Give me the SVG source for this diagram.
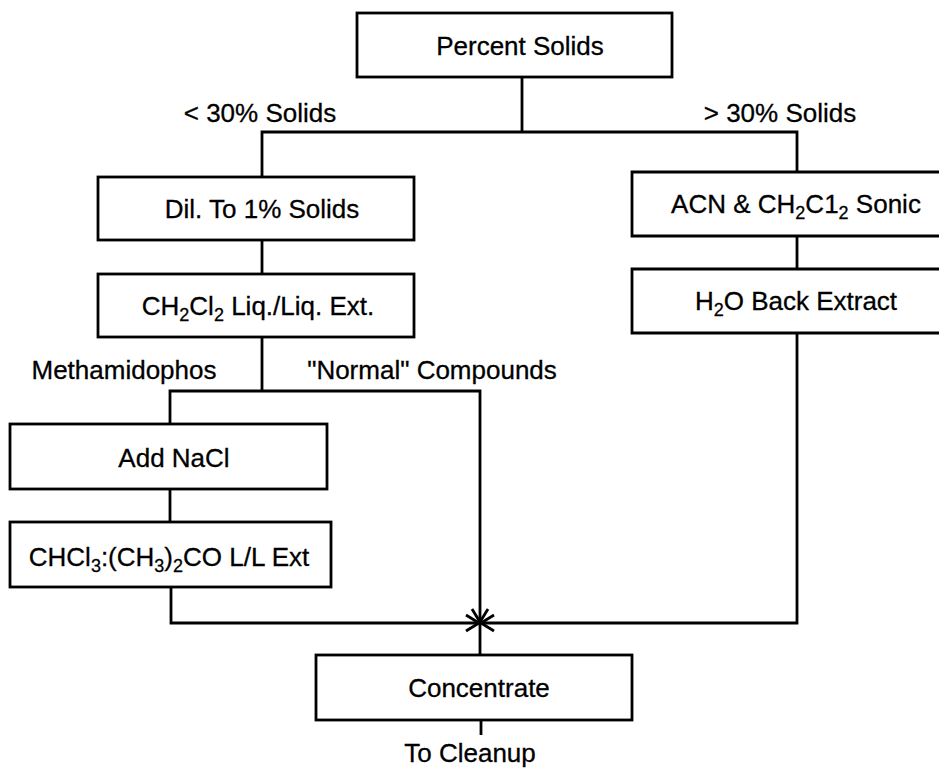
<svg xmlns="http://www.w3.org/2000/svg" width="939" height="769" viewBox="0 0 939 769">
<style>
  .box { fill: #fff; stroke: #000; stroke-width: 2.8; }
  .ln { fill: none; stroke: #000; stroke-width: 2.8; }
  text { font-family: "Liberation Sans", Arial, sans-serif; font-size: 26px; fill: #000; stroke: #000; stroke-width: 0.3; text-anchor: middle; }
  .sub { font-size: 18px; }
</style>
<defs>
  <marker id="arr" markerWidth="18" markerHeight="20" refX="14" refY="10" orient="auto" markerUnits="userSpaceOnUse">
    <path d="M1,2 L14,10 L1,18" fill="none" stroke="#000" stroke-width="2.8"/>
  </marker>
</defs>
<rect width="939" height="769" fill="#fff"/>

<g id="connectors">
  <path class="ln" d="M522,77 V132"/>
  <path class="ln" d="M262,177 V132 H797 V172"/>
  <path class="ln" d="M262,240 V274"/>
  <path class="ln" d="M797,236 V269"/>
  <path class="ln" d="M262,337 V391"/>
  <path class="ln" d="M170,424 V391 H480 V622" marker-end="url(#arr)"/>
  <path class="ln" d="M170,489 V522"/>
  <path class="ln" d="M171,587 V623 H479" marker-end="url(#arr)"/>
  <path class="ln" d="M797,333 V623 H481" marker-end="url(#arr)"/>
  <path class="ln" d="M480,623 V655"/>
  <path class="ln" d="M481,720 V735"/>
</g>

<g id="label-lt30"><text x="260" y="122">&lt; 30% Solids</text></g>
<g id="label-gt30"><text x="780" y="122">&gt; 30% Solids</text></g>
<g id="label-metha"><text x="124" y="379">Methamidophos</text></g>
<g id="label-normal"><text x="432" y="379">"Normal" Compounds</text></g>
<g id="label-cleanup"><text x="470" y="762">To Cleanup</text></g>

<g id="percent-solids">
  <rect class="box" x="357" y="13" width="315" height="64"/>
  <text x="520" y="55">Percent Solids</text>
</g>
<g id="dilute">
  <rect class="box" x="98" y="177" width="316" height="63"/>
  <text x="262" y="218">Dil. To 1% Solids</text>
</g>
<g id="ch2cl2-ext">
  <rect class="box" x="98" y="274" width="316" height="63"/>
  <text x="258" y="315">CH<tspan class="sub" dy="6">2</tspan><tspan dy="-6">Cl</tspan><tspan class="sub" dy="6">2</tspan><tspan dy="-6"> Liq./Liq. Ext.</tspan></text>
</g>
<g id="acn-sonic">
  <path class="box" d="M945,172 H632 V236 H945"/>
  <text x="796" y="213">ACN &amp; CH<tspan class="sub" dy="6">2</tspan><tspan dy="-6">C1</tspan><tspan class="sub" dy="6">2</tspan><tspan dy="-6"> Sonic</tspan></text>
</g>
<g id="h2o-back">
  <path class="box" d="M945,269 H632 V333 H945"/>
  <text x="796" y="310">H<tspan class="sub" dy="6">2</tspan><tspan dy="-6">O Back Extract</tspan></text>
</g>
<g id="add-nacl">
  <rect class="box" x="10" y="424" width="317" height="65"/>
  <text x="174" y="467">Add NaCl</text>
</g>
<g id="chcl3-ext">
  <rect class="box" x="10" y="522" width="321" height="65"/>
  <text x="169" y="566">CHCl<tspan class="sub" dy="6">3</tspan><tspan dy="-6">:(CH</tspan><tspan class="sub" dy="6">3</tspan><tspan dy="-6">)</tspan><tspan class="sub" dy="6">2</tspan><tspan dy="-6">CO L/L Ext</tspan></text>
</g>
<g id="concentrate">
  <rect class="box" x="316" y="655" width="316" height="65"/>
  <text x="479" y="697">Concentrate</text>
</g>
</svg>
